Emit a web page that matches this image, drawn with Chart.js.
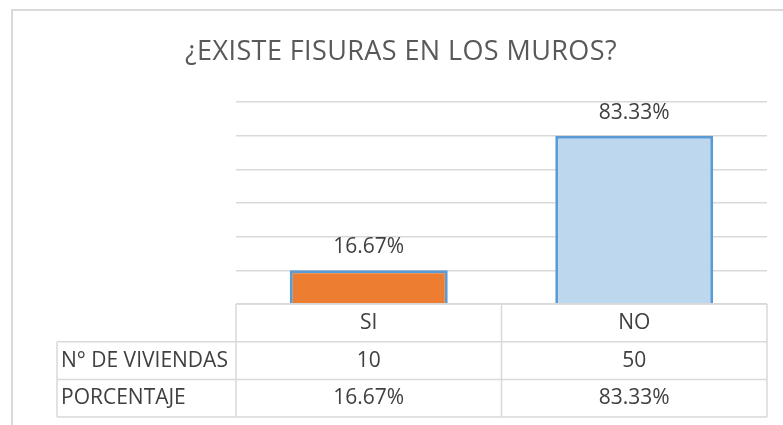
<!DOCTYPE html>
<html>
<head>
<meta charset="utf-8">
<script src="https://cdn.jsdelivr.net/npm/chart.js@4"></script>
<style>
  body { margin: 0; background: #fff; }
  canvas { display: block; }
</style>
</head>
<body>
<canvas id="chart" width="783" height="425"></canvas>
<script>
// ----------- Data -----------
const categories = ["SI", "NO"];
const viviendas = [10, 50];
const porcentaje = [16.67, 83.33];
const rowLabels = ["N° DE VIVIENDAS", "PORCENTAJE"];
const title = "¿EXISTE FISURAS EN LOS MUROS?";

const gridColor = "#d9d9d9";
const textColor = "#404040";
const fontFamily = "'Open Sans', sans-serif";

const pct = v => v.toFixed(2) + "%";

// ----------- Frame, title, data labels, data table -----------
const extras = {
    id: "extras",
    beforeDraw(chart) {
        const ctx = chart.ctx;
        ctx.save();
        ctx.strokeStyle = gridColor;
        ctx.lineWidth = 2;
        ctx.beginPath();
        ctx.moveTo(12, 440);
        ctx.lineTo(12, 10);
        ctx.lineTo(800, 10);
        ctx.stroke();

        // title, centred on the whole frame like in the sheet
        ctx.fillStyle = "#595959";
        ctx.font = "27px " + fontFamily;
        ctx.letterSpacing = "0.4px";
        ctx.textAlign = "center";
        ctx.textBaseline = "alphabetic";
        ctx.fillText(title, 401, 60);
        ctx.restore();
    },
    afterDatasetsDraw(chart) {
        const ctx = chart.ctx;
        const meta = chart.getDatasetMeta(0);
        ctx.save();
        ctx.fillStyle = textColor;
        ctx.font = "21px " + fontFamily;
        ctx.textAlign = "center";
        ctx.textBaseline = "alphabetic";
        meta.data.forEach((bar, i) => {
            ctx.fillText(pct(porcentaje[i]), bar.x, bar.y - 17);
        });
        ctx.restore();
    },
    afterDraw(chart) {
        const ctx = chart.ctx;
        const area = chart.chartArea;
        const x = chart.scales.x;
        const half = (area.right - area.left) / categories.length / 2;
        const rowH = 37.7;
        const top = area.bottom;
        const labelLeft = 57;
        const nRows = rowLabels.length + 1;

        ctx.save();
        ctx.strokeStyle = gridColor;
        ctx.lineWidth = 1.5;
        ctx.beginPath();
        ctx.moveTo(area.left, top);
        ctx.lineTo(area.right, top);
        for (let r = 1; r <= nRows; r++) {
            ctx.moveTo(labelLeft, top + r * rowH);
            ctx.lineTo(area.right, top + r * rowH);
        }
        ctx.moveTo(labelLeft, top + rowH);
        ctx.lineTo(labelLeft, top + nRows * rowH);
        categories.forEach((c, i) => {
            const cx = x.getPixelForValue(i);
            ctx.moveTo(cx - half, top);
            ctx.lineTo(cx - half, top + nRows * rowH);
        });
        ctx.moveTo(area.right, top);
        ctx.lineTo(area.right, top + nRows * rowH);
        ctx.stroke();

        ctx.fillStyle = textColor;
        ctx.font = "21px " + fontFamily;
        ctx.textBaseline = "middle";
        const rows = [viviendas.map(String), porcentaje.map(pct)];
        ctx.textAlign = "center";
        categories.forEach((c, i) => {
            const cx = x.getPixelForValue(i);
            ctx.fillText(c, cx, top + rowH * 0.5);
            rows.forEach((row, r) => {
                ctx.fillText(row[i], cx, top + rowH * (r + 1.5));
            });
        });
        ctx.textAlign = "left";
        rowLabels.forEach((lbl, r) => {
            ctx.fillText(lbl, labelLeft + 4, top + rowH * (r + 1.5));
        });
        ctx.restore();
    }
};

// ----------- Chart -----------
new Chart(document.getElementById("chart"), {
    type: "bar",
    data: {
        labels: categories,
        datasets: [{
            data: porcentaje,
            backgroundColor: ["#ED7D31", "#BDD7EE"],
            borderColor: "#5B9BD5",
            borderWidth: 3,
            barPercentage: 0.595,
            categoryPercentage: 1
        }]
    },
    options: {
        responsive: false,
        animation: false,
        layout: { padding: { left: 236, right: 16, top: 102, bottom: 121 } },
        plugins: {
            legend: { display: false },
            tooltip: { enabled: false },
            title: { display: false }
        },
        scales: {
            x: { display: false },
            y: {
                min: 0,
                max: 100,
                ticks: { display: false, count: 7 },
                border: { display: false },
                grid: { color: gridColor, lineWidth: 1.5, drawTicks: false }
            }
        }
    },
    plugins: [extras]
});
</script>
</body>
</html>
